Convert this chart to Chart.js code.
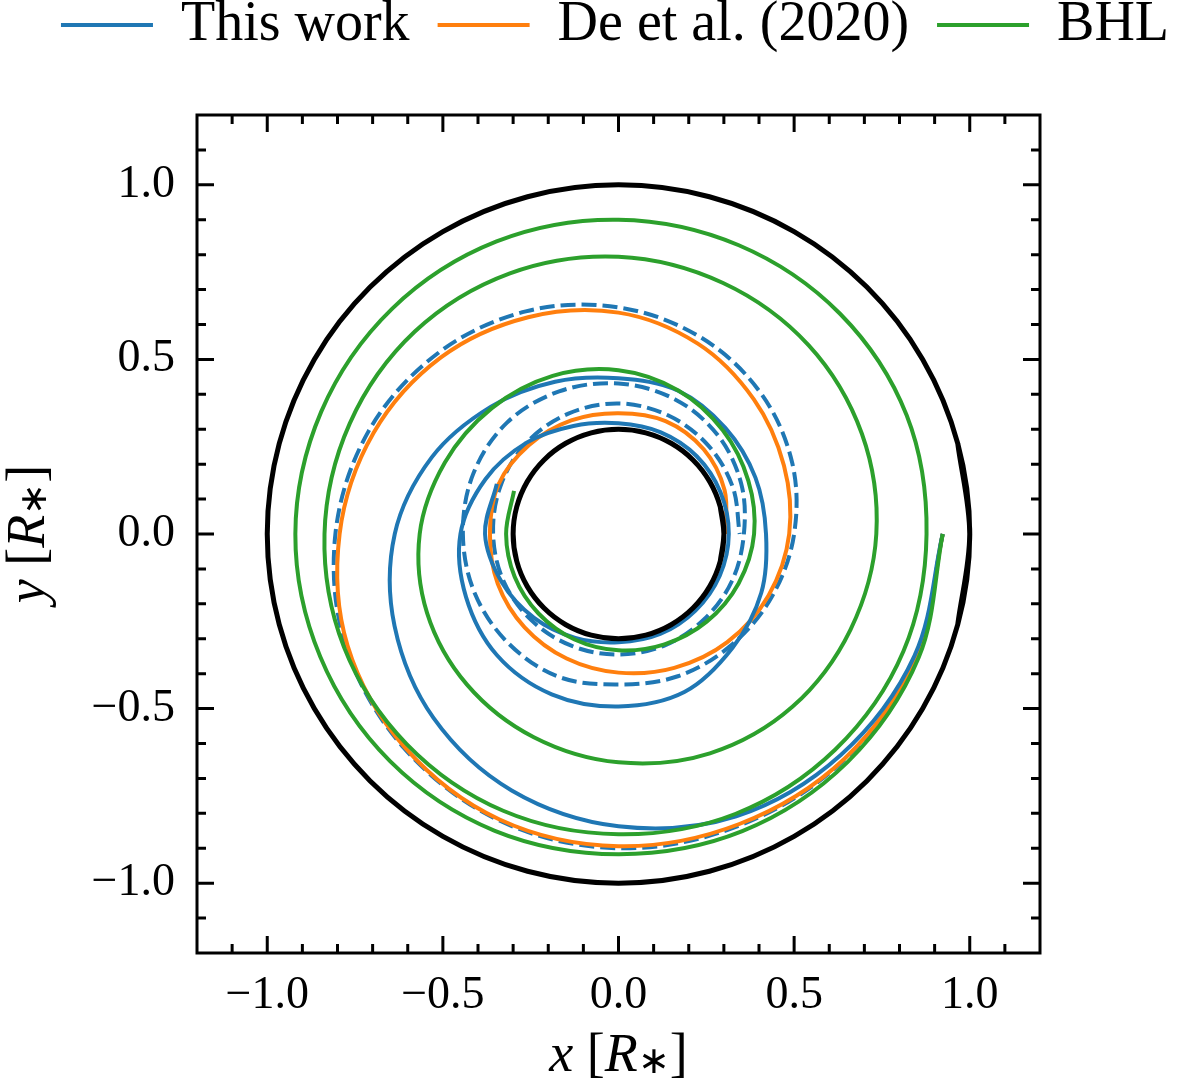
<!DOCTYPE html>
<html>
<head>
<meta charset="utf-8">
<script src="https://cdn.jsdelivr.net/npm/chart.js@4.4.1/dist/chart.umd.min.js"></script>
<style>
    body { margin: 0; background: #fff; }
</style>
</head>
<body>
<canvas id="myChart" width="1200" height="1088"></canvas>
<script>
// tick positions
const majorTicks = [-1.0, -0.5, 0.0, 0.5, 1.0];
const minorTicks = [-1.1, -0.9, -0.8, -0.7, -0.6, -0.4, -0.3, -0.2, -0.1, 0.1, 0.2, 0.3, 0.4, 0.6, 0.7, 0.8, 0.9, 1.1];

// curves as (angle in degrees, radius in R*), clockwise = negative angle
const circleAngles = [-15, 0, 15, 30, 45, 60, 75, 90, 105, 120, 135, 150, 165, 180, 195, 210, 225, 240, 255, 270, 285, 300, 315, 330, 345, 360, 375];
const outerRadius = [1, 1, 1, 1, 1, 1, 1, 1, 1, 1, 1, 1, 1, 1, 1, 1, 1, 1, 1, 1, 1, 1, 1, 1, 1, 1, 1];
const innerRadius = [0.3, 0.3, 0.3, 0.3, 0.3, 0.3, 0.3, 0.3, 0.3, 0.3, 0.3, 0.3, 0.3, 0.3, 0.3, 0.3, 0.3, 0.3, 0.3, 0.3, 0.3, 0.3, 0.3, 0.3, 0.3, 0.3, 0.3];

// spirals sampled every 22.5 degrees from the start at angle 0
const workRadius = [0.923, 0.912, 0.895, 0.875, 0.837, 0.795, 0.745, 0.69, 0.637, 0.575, 0.515, 0.472,
    0.446, 0.444, 0.43, 0.422, 0.42, 0.44, 0.46, 0.49, 0.494, 0.497, 0.49, 0.47,
    0.45, 0.41, 0.37, 0.335, 0.317, 0.315, 0.315, 0.314, 0.314, 0.312, 0.31, 0.31,
    0.31, 0.322, 0.34, 0.36, 0.38, 0.375];

const workDashRadius = [0.923, 0.918, 0.912, 0.903, 0.90, 0.888, 0.865, 0.84, 0.806, 0.77, 0.73, 0.69,
    0.649, 0.61, 0.572, 0.535, 0.50, 0.472, 0.452, 0.441, 0.431, 0.443, 0.443, 0.443,
    0.443, 0.448, 0.45, 0.442, 0.431, 0.418, 0.40, 0.378, 0.357, 0.35, 0.345, 0.345,
    0.345, 0.347, 0.35, 0.354, 0.357, 0.363, 0.37, 0.373, 0.374, 0.368, 0.36, 0.352, 0.345];

const deRadius = [0.923, 0.918, 0.91, 0.899, 0.894, 0.885, 0.862, 0.835, 0.794, 0.755, 0.715, 0.672,
    0.634, 0.59, 0.545, 0.51, 0.486, 0.462, 0.438, 0.415, 0.397, 0.386, 0.378, 0.372,
    0.366, 0.37, 0.36, 0.352, 0.346, 0.35, 0.343, 0.327, 0.305];

const bhlRadius = [0.923, 0.925, 0.923, 0.921, 0.917, 0.92, 0.92, 0.919, 0.92, 0.916, 0.912, 0.907,
    0.90, 0.895, 0.892, 0.888, 0.877, 0.878, 0.873, 0.868, 0.86, 0.858, 0.852, 0.846,
    0.837, 0.828, 0.82, 0.808, 0.794, 0.778, 0.765, 0.75, 0.734, 0.715, 0.70, 0.68,
    0.654, 0.63, 0.61, 0.59, 0.566, 0.535, 0.51, 0.49, 0.469, 0.445, 0.42, 0.40,
    0.386, 0.37, 0.355, 0.342, 0.333, 0.327, 0.322, 0.32, 0.32, 0.322];

const angleStep = -22.5;
const labels = ['This work', 'De et al. (2020)', 'BHL'];

function toPoints(angles, radius) {
    return radius.map((r, i) => {
        const t = angles(i) * Math.PI / 180;
        return {x: r * Math.cos(t), y: r * Math.sin(t)};
    });
}

const spiral = radius => toPoints(i => i * angleStep, radius);
const circle = radius => toPoints(i => circleAngles[i], radius);

function drawLabel(ctx, parts, size) {
    let total = 0;
    parts.forEach(p => {
        ctx.font = (p.it ? 'italic ' : '') + (p.sub ? size * 0.7 : size) + 'px "Liberation Serif"';
        p.w = ctx.measureText(p.t).width;
        total += p.w;
    });
    let x = -total / 2;
    parts.forEach(p => {
        ctx.font = (p.it ? 'italic ' : '') + (p.sub ? size * 0.7 : size) + 'px "Liberation Serif"';
        ctx.fillText(p.t, x, p.sub ? size * 0.12 : 0);
        x += p.w;
    });
}

const frameTicks = {
    id: 'frameTicks',
    afterDraw(chart) {
        const {ctx, chartArea: a, scales: {x, y}} = chart;
        ctx.save();
        ctx.strokeStyle = '#000';
        ctx.lineWidth = 3;
        ctx.strokeRect(a.left, a.top, a.right - a.left, a.bottom - a.top);
        const mark = (v, len) => {
            const px = x.getPixelForValue(v);
            const py = y.getPixelForValue(v);
            ctx.beginPath();
            ctx.moveTo(px, a.bottom); ctx.lineTo(px, a.bottom - len);
            ctx.moveTo(px, a.top); ctx.lineTo(px, a.top + len);
            ctx.moveTo(a.left, py); ctx.lineTo(a.left + len, py);
            ctx.moveTo(a.right, py); ctx.lineTo(a.right - len, py);
            ctx.stroke();
        };
        minorTicks.forEach(v => mark(v, 9));
        majorTicks.forEach(v => mark(v, 17));

        ctx.fillStyle = '#000';
        ctx.textBaseline = 'middle';
        ctx.textAlign = 'left';
        ctx.translate((a.left + a.right) / 2, 1057);
        drawLabel(ctx, [{t: 'x', it: true}, {t: ' ['}, {t: 'R', it: true}, {t: '\u2217', sub: true}, {t: ']'}], 54);
        ctx.setTransform(1, 0, 0, 1, 0, 0);
        ctx.translate(30, (a.top + a.bottom) / 2);
        ctx.rotate(-Math.PI / 2);
        drawLabel(ctx, [{t: 'y', it: true}, {t: ' ['}, {t: 'R', it: true}, {t: '\u2217', sub: true}, {t: ']'}], 54);
        ctx.restore();
    }
};

const tickFont = {family: '"Liberation Serif"', size: 46};
const fmt = v => (v < 0 ? '\u2212' : '') + Math.abs(v).toFixed(1);
const setMajor = scale => { scale.ticks = majorTicks.map(v => ({value: v})); };

new Chart(document.getElementById('myChart'), {
    type: 'scatter',
    data: {
        datasets: [
            {data: circle(outerRadius), borderColor: '#000', borderWidth: 5, tension: 0.338, order: 0},
            {data: circle(innerRadius), borderColor: '#000', borderWidth: 5, tension: 0.338, order: 0},
            {label: labels[2], data: spiral(bhlRadius), borderColor: '#2ca02c', backgroundColor: '#2ca02c', borderWidth: 4, tension: 0.345, order: 1},
            {label: labels[0], data: spiral(workRadius), borderColor: '#1f77b4', backgroundColor: '#1f77b4', borderWidth: 4, tension: 0.345, order: 2},
            {label: labels[1], data: spiral(deRadius), borderColor: '#ff7f0e', backgroundColor: '#ff7f0e', borderWidth: 4, tension: 0.345, order: 3},
            {data: spiral(workDashRadius), borderColor: '#1f77b4', borderWidth: 4, borderDash: [15, 6], tension: 0.345, order: 4}
        ]
    },
    options: {
        responsive: false,
        animation: false,
        showLine: true,
        elements: {point: {radius: 0, hoverRadius: 0}},
        layout: {padding: {left: 30, right: 0, top: -31, bottom: 0}},
        plugins: {
            tooltip: {enabled: false},
            legend: {
                position: 'top',
                labels: {
                    filter: item => !!item.text,
                    sort: (a, b) => labels.indexOf(a.text) - labels.indexOf(b.text),
                    usePointStyle: true,
                    pointStyle: 'line',
                    pointStyleWidth: 92,
                    color: '#000',
                    padding: 28,
                    font: {family: '"Liberation Serif"', size: 56}
                }
            }
        },
        scales: {
            x: {
                min: -1.2, max: 1.2,
                afterBuildTicks: setMajor,
                afterFit: s => { s.height = 135; },
                grid: {display: false, drawTicks: false},
                border: {display: false},
                ticks: {callback: fmt, font: tickFont, color: '#000', padding: 15, maxRotation: 0}
            },
            x2: {
                position: 'top', min: -1.2, max: 1.2,
                afterFit: s => { s.height = 52; },
                grid: {display: false, drawTicks: false},
                border: {display: false},
                ticks: {display: false}
            },
            y: {
                min: -1.2, max: 1.2,
                afterBuildTicks: setMajor,
                afterFit: s => { s.width = 167; },
                grid: {display: false, drawTicks: false},
                border: {display: false},
                ticks: {callback: fmt, font: tickFont, color: '#000', padding: 22}
            },
            y2: {
                position: 'right', min: -1.2, max: 1.2,
                afterFit: s => { s.width = 160; },
                grid: {display: false, drawTicks: false},
                border: {display: false},
                ticks: {display: false}
            }
        }
    },
    plugins: [frameTicks]
});
</script>
</body>
</html>
